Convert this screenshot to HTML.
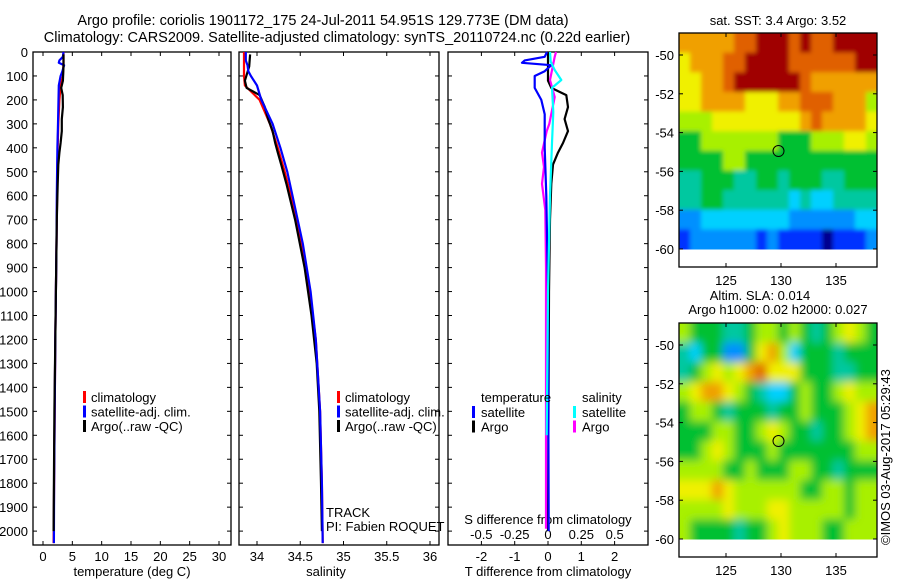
<!DOCTYPE html>
<html><head><meta charset="utf-8">
<style>
html,body{margin:0;padding:0;background:#fff;}
svg{display:block;font-family:"Liberation Sans",sans-serif;}
text{font-size:13px;fill:#000;}
.ttl{font-size:14.5px;}
</style></head>
<body>
<svg id="fig" width="900" height="580" viewBox="0 0 900 580" xmlns="http://www.w3.org/2000/svg">
<defs>
<filter id="blurA" x="-5%" y="-5%" width="110%" height="110%"><feGaussianBlur stdDeviation="2.2"/></filter>
<filter id="blurB" x="-5%" y="-5%" width="110%" height="110%"><feGaussianBlur stdDeviation="4.5"/></filter>
<clipPath id="clipTop"><rect x="679" y="33" width="198" height="216.5"/></clipPath>
<clipPath id="clipBot"><rect x="679" y="323" width="198" height="216.5"/></clipPath>
</defs>
<rect width="900" height="580" fill="#fff"/>
<text class="ttl" x="323" y="25" text-anchor="middle">Argo profile: coriolis 1901172_175 24-Jul-2011 54.951S 129.773E (DM data)</text>
<text class="ttl" x="337" y="42" text-anchor="middle">Climatology: CARS2009. Satellite-adjusted climatology: synTS_20110724.nc (0.22d earlier)</text>
<text transform="translate(890,545) rotate(-90)">©IMOS 03-Aug-2017 05:29:43</text>
</svg>
<script>
// ---------- data ----------
const depthTicks=[0,100,200,300,400,500,600,700,800,900,1000,1100,1200,1300,1400,1500,1600,1700,1800,1900,2000];
const tempTicks=[0,5,10,15,20,25,30];
const salTicks=[34,34.5,35,35.5,36];
const tdiffTicks=[-2,-1,0,1,2];
const sdiffTicks=[-0.5,-0.25,0,0.25,0.5];
const sdiffLabels=["-0.5","-0.25","0","0.25","0.5"];

const climDepth=[0,50,100,140,200,300,400,500,600,800,1000,1200,1500,1800,2050];
const climTemp=[3.5,3.5,3.4,3.0,2.8,2.6,2.5,2.45,2.4,2.3,2.2,2.1,2.0,1.9,1.8];
const climSal=[33.85,33.85,33.85,33.86,34.03,34.15,34.24,34.32,34.39,34.52,34.61,34.68,34.73,34.75,34.76];
const satDepth=[0,20,35,45,55,80,100,140,200,300,400,500,600,800,1000,1200,1500,1800,2050];
const satTemp=[3.5,3.4,2.8,2.7,3.6,3.3,3.0,2.7,2.65,2.55,2.45,2.4,2.35,2.3,2.2,2.1,2.0,1.9,1.85];
const satSal=[33.87,33.87,33.87,33.88,33.89,33.9,33.93,34.0,34.05,34.18,34.27,34.35,34.41,34.53,34.62,34.68,34.73,34.75,34.76];
const argoDepth=[10,60,120,150,180,230,280,330,380,420,470,550,700,900,1100,1300,1500,1800,2000];
const argoTemp=[3.5,3.5,3.4,3.1,3.35,3.4,3.2,3.2,3.0,2.8,2.6,2.5,2.35,2.25,2.15,2.05,1.95,1.85,1.8];
const argoSal=[33.92,33.91,33.86,33.88,34.03,34.09,34.13,34.18,34.21,34.24,34.28,34.34,34.44,34.55,34.63,34.69,34.72,34.74,34.75];

const tSatDiffDepth=[0,20,35,45,55,80,100,150,200,260,400,600,1000,2000];
const tSatDiff=[-0.03,-0.1,-0.7,-0.78,0.1,-0.1,-0.4,-0.4,-0.2,-0.1,-0.1,-0.05,0.0,0.02];
const tArgoDiffDepth=[0,60,120,150,180,230,280,330,380,420,470,550,700,1000,2000];
const tArgoDiff=[0,0,0,0.1,0.55,0.6,0.5,0.6,0.45,0.3,0.15,0.1,0.06,0.03,0.0];
const sSatDiffDepth=[0,40,75,117,150,250,380,600,1000,1600];
const sSatDiff=[0.015,0.02,0.05,0.1,0.03,0.04,0.03,0.015,0.0,-0.01];
const sArgoDiffDepth=[0,20,117,188,300,330,420,480,550,660,900,1400,1990];
const sArgoDiff=[0.06,0.05,0.015,0.05,0.01,-0.01,-0.045,-0.03,-0.045,-0.02,-0.015,-0.015,-0.015];

// maps: rows lat -49..-59 (top->bottom), cols lon 121..138; values are colour index 0..10
const mapLons=[121,122,123,124,125,126,127,128,129,130,131,132,133,134,135,136,137,138];
const mapLats=[-49,-50,-51,-52,-53,-54,-55,-56,-57,-58,-59];
const sstGrid=[
[8,8,8,8,8,9,9,10,10,10,9,10,9,9,10,10,10,10],
[7,8,8,8,9,9,10,10,10,10,9,9,9,9,9,9,10,10],
[7,7,8,8,9,10,10,10,10,10,10,9,8,8,8,8,8,8],
[7,7,8,8,8,8,7,7,7,8,8,9,9,9,8,8,8,6],
[6,6,6,7,7,7,7,7,7,7,7,8,9,8,8,8,8,7],
[5,5,6,6,6,6,6,6,6,5,5,5,6,6,6,7,7,6],
[5,5,5,5,6,6,5,5,5,5,5,5,5,5,5,5,5,5],
[4,4,5,5,5,4,4,5,5,4,5,5,5,4,4,5,5,5],
[4,4,5,5,4,4,4,4,4,4,3,4,3,3,4,4,4,4],
[2,2,3,3,3,3,3,3,3,3,2,2,2,2,2,2,3,3],
[1,2,2,2,2,2,2,1,2,1,1,1,1,0,1,1,1,2]];
const slaGrid=[
[6,5,5,5,4,4,5,6,6,5,6,5,4,5,6,7,6,5],
[4,3,5,5,2,2,5,7,8,6,3,5,5,5,4,5,5,5],
[4,5,6,7,6,7,8,9,7,7,7,5,5,5,4,4,5,5],
[6,7,8,8,7,6,5,4,3,3,5,6,5,5,6,7,6,6],
[5,6,6,5,4,5,5,5,4,5,5,6,5,5,5,6,7,8],
[5,5,5,6,6,5,5,6,7,6,5,5,4,5,5,6,7,8],
[5,5,6,7,6,5,5,5,6,5,5,5,5,5,5,5,6,6],
[6,6,6,6,5,5,6,5,5,5,6,6,5,5,4,5,5,5],
[7,7,7,8,7,6,6,6,6,6,6,5,5,6,6,5,6,6],
[6,6,6,6,7,6,6,6,7,7,6,6,6,6,6,5,6,6],
[6,5,5,5,5,4,5,5,6,7,6,6,6,5,5,6,6,6]];
const mapLatTicks=[-50,-52,-54,-56,-58,-60];
const mapLonTicks=[125,130,135];
const argoLon=129.773, argoLat=-54.951;

// ---------- helpers ----------
const NS="http://www.w3.org/2000/svg";
const svg=document.getElementById('fig');
function mk(tag,attrs,parent){const e=document.createElementNS(NS,tag);for(const k in attrs)e.setAttribute(k,attrs[k]);(parent||svg).appendChild(e);return e;}
function txt(x,y,s,anchor,parent){const t=mk('text',{x:x,y:y,'text-anchor':anchor||'start'},parent);t.textContent=s;return t;}
const colors=['#00008f','#0030ff','#0090ff','#00d0ff','#00c8a0','#00c030','#a8f000','#f0f000','#f0a000','#e06000','#a00000'];

const PT=52,PB=545;
const yD=d=>PT+(d-0)*(PB-PT)/2058;

function panel(name,x0,x1){
  const g=mk('g',{});
  
  
  mk('rect',{x:x0,y:PT,width:x1-x0,height:PB-PT,fill:'#fff',stroke:'#000','stroke-width':1.3},g);
  depthTicks.forEach(d=>{const y=yD(d);
    mk('line',{x1:x0,x2:x0+4,y1:y,y2:y,stroke:'#000'},g);
    mk('line',{x1:x1-4,x2:x1,y1:y,y2:y,stroke:'#000'},g);});
  return g;
}
function line(g,xs,ds,fx,color,name,w){
  const p=xs.map((v,i)=>fx(v).toFixed(1)+','+yD(ds[i]).toFixed(1)).join(' ');
  const e=mk('polyline',{points:p,fill:'none',stroke:color,'stroke-width':w||2.2,'stroke-linejoin':'round'},g);
  
  
}

// ---------- panel 1: temperature ----------
const fT=v=>43+v*(219-43)/30;
const g1=panel('temperature-panel',33,231);
tempTicks.forEach(t=>{const x=fT(t);mk('line',{x1:x,x2:x,y1:PB,y2:PB-4,stroke:'#000'},g1);mk('line',{x1:x,x2:x,y1:PT,y2:PT+4,stroke:'#000'},g1);txt(x,561,String(t),'middle',g1);});
depthTicks.forEach(d=>txt(28,yD(d)+5,String(d),'end',g1));
line(g1,climTemp,climDepth,fT,'#ff0000','temp-climatology-line');
line(g1,satTemp,satDepth,fT,'#0000ff','temp-satellite-line');
line(g1,argoTemp,argoDepth,fT,'#000000','temp-argo-line');
txt(132,576,'temperature (deg C)','middle',g1);

// ---------- panel 2: salinity ----------
const fS=v=>257+(v-34)*(430-257)/2;
const g2=panel('salinity-panel',239,439);
salTicks.forEach(t=>{const x=fS(t);mk('line',{x1:x,x2:x,y1:PB,y2:PB-4,stroke:'#000'},g2);mk('line',{x1:x,x2:x,y1:PT,y2:PT+4,stroke:'#000'},g2);txt(x,561,String(t),'middle',g2);});
line(g2,climSal,climDepth,fS,'#ff0000','sal-climatology-line');
line(g2,argoSal,argoDepth,fS,'#000000','sal-argo-line');
line(g2,satSal,satDepth,fS,'#0000ff','sal-satellite-line');
txt(326,576,'salinity','middle',g2);
txt(326,517,'TRACK','start',g2);
txt(326,531,'PI: Fabien ROQUET','start',g2);

const legItems=[['climatology','#ff0000'],['satellite-adj. clim.','#0000ff'],['Argo(..raw -QC)','#000000']];
[[84,g1],[338,g2]].forEach(([lx,g])=>{legItems.forEach((it,i)=>{const y=397+i*14.5;
  mk('rect',{x:lx-1,y:y-6,width:3,height:12,fill:it[1]},g);
  const t=txt(lx+7,y+5,it[0],'start',g);
  
  });});

// ---------- panel 3: differences ----------
const fTd=v=>548+v*33.3;
const fSd=v=>548+v*133.3;
const g3=panel('difference-panel',448,648);
tdiffTicks.forEach(t=>{const x=fTd(t);mk('line',{x1:x,x2:x,y1:PB,y2:PB-4,stroke:'#000'},g3);mk('line',{x1:x,x2:x,y1:PT,y2:PT+4,stroke:'#000'},g3);txt(x,561,String(t),'middle',g3);});
sdiffTicks.forEach((t,i)=>txt(fSd(t),539,sdiffLabels[i],'middle',g3));
txt(548,524,'S difference from climatology','middle',g3);
txt(548,576,'T difference from climatology','middle',g3);
line(g3,tArgoDiff,tArgoDiffDepth,fTd,'#000000','t-argo-diff-line');
line(g3,sArgoDiff,sArgoDiffDepth,fSd,'#ff00ff','s-argo-diff-line');
line(g3,tSatDiff,tSatDiffDepth,fTd,'#0000ff','t-satellite-diff-line');
line(g3,sSatDiff,sSatDiffDepth,fSd,'#00ffff','s-satellite-diff-line');
txt(481,402,'temperature','start',g3);
txt(582,402,'salinity','start',g3);
[['satellite','#0000ff',473],['Argo','#000000',473],['satellite','#00ffff',574],['Argo','#ff00ff',574]].forEach((it,i)=>{
  const y=412+(i%2)*14.5;
  mk('rect',{x:it[2]-1,y:y-6,width:3,height:12,fill:it[1]},g3);
  const t=txt(it[2]+8,y+5,it[0],'start',g3);
  
  });

// ---------- maps ----------
function drawMap(name,grid,top,clipId,filterId,title1,title2){
  const g=mk('g',{});
  
  
  const L=679,R=877,T=top,B=top+234;
  const fx=lon=>726+(lon-125)*11;
  const fy=lat=>top+22+(-50-lat)*19.4;
  const dataBottom=fy(-60);
  const nR=grid.length,nC=grid[0].length;
  const cw=(R-L)/nC, ch=(dataBottom-T)/nR;
  mk('rect',{x:L,y:T,width:R-L,height:B-T,fill:'#fff'},g);
  const clipG=mk('g',{'clip-path':'url(#'+clipId+')'},g);
  const cellsG=mk('g',{filter:'url(#'+filterId+')'},clipG);
  grid.forEach((row,r)=>row.forEach((v,c)=>{
    let x0=L+c*cw, x1=x0+cw, y0=T+r*ch, y1=y0+ch;
    if(c===0)x0-=12; if(c===nC-1)x1+=12; if(r===0)y0-=12; if(r===nR-1)y1+=12;
    const cell=mk('rect',{x:x0,y:y0,width:x1-x0+0.5,height:y1-y0+0.5,fill:colors[v]},cellsG);
    
    
  }));
  mk('rect',{x:L,y:T,width:R-L,height:B-T,fill:'none',stroke:'#000','stroke-width':1.3},g);
  mapLatTicks.forEach(l=>{const y=fy(l);mk('line',{x1:L,x2:L+4,y1:y,y2:y,stroke:'#000'},g);mk('line',{x1:R-4,x2:R,y1:y,y2:y,stroke:'#000'},g);txt(L-5,y+5,String(l),'end',g);});
  mapLonTicks.forEach(l=>{const x=fx(l);mk('line',{x1:x,x2:x,y1:B,y2:B-4,stroke:'#000'},g);mk('line',{x1:x,x2:x,y1:T,y2:T+4,stroke:'#000'},g);txt(x,B+18,String(l),'middle',g);});
  const c=mk('circle',{cx:fx(argoLon),cy:fy(argoLat),r:5.5,fill:'none',stroke:'#000','stroke-width':1},g);
  
  
  if(title2){txt(760,top-23,title1,'middle',g);txt(778,top-9,title2,'middle',g);}
  else txt(778,top-8,title1,'middle',g);
}
drawMap('sst-map',sstGrid,33,'clipTop','blurA','sat. SST: 3.4  Argo: 3.52');
drawMap('sla-map',slaGrid,323,'clipBot','blurB','Altim. SLA: 0.014','Argo h1000: 0.02 h2000: 0.027');
</script>
</body></html>
